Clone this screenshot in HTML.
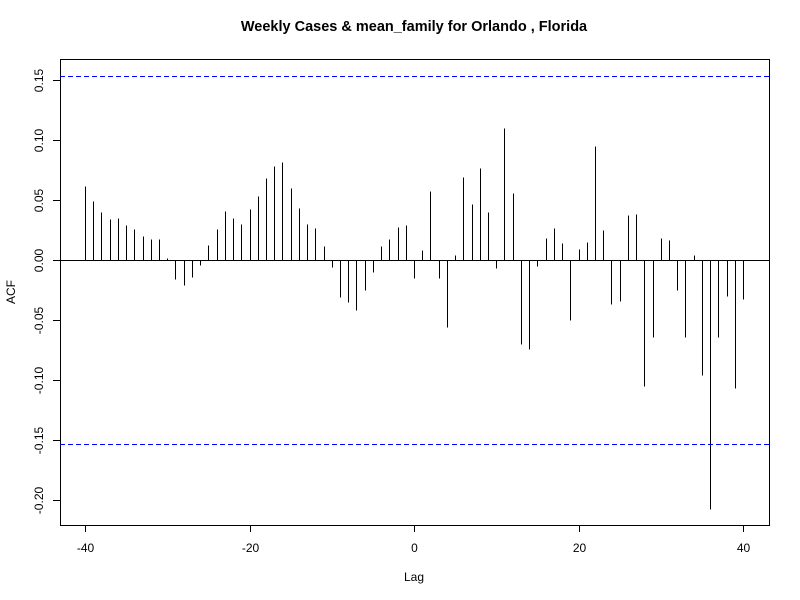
<!DOCTYPE html>
<html><head><meta charset="utf-8"><style>body{margin:0;background:#fff}svg{display:block;font-family:"Liberation Sans",Arial,sans-serif}</style></head>
<body>
<svg id="c" width="800" height="600"></svg>
<script>
const lags=[];for(let i=-40;i<=40;i++)lags.push(i);
const acfValues=[0.0617,0.049,0.040,0.034,0.035,0.029,0.026,0.020,0.0175,0.0175,0.0017,-0.0156,-0.0206,-0.0139,-0.0039,0.0125,0.026,0.041,
0.035,0.030,0.0425,0.053,0.068,0.078,0.082,0.060,0.043,0.030,0.027,0.0117,-0.0056,-0.031,-0.035,-0.042,-0.025,-0.0097,0.0117,0.0175,0.0275,0.029,
-0.0147,0.0083,0.0575,-0.0147,-0.0556,0.0042,0.069,0.0467,0.0767,0.040,-0.0064,0.110,0.0558,-0.0697,-0.0739,-0.0047,0.0183,0.0267,0.0142,-0.0497,0.0092,0.015,
0.095,0.025,-0.0364,-0.0339,0.0375,0.0383,-0.1047,-0.0639,0.0183,0.0167,-0.0247,-0.0639,0.0042,-0.0956,-0.2078,-0.0639,-0.0297,-0.1064,-0.0322];
const ciBound=0.1533;
const yTicks=[-0.20,-0.15,-0.10,-0.05,0.00,0.05,0.10,0.15];
const xTicks=[-40,-20,0,20,40];
const svg=document.getElementById('c');const NS='http://www.w3.org/2000/svg';
const X=v=>Math.round(414+v*8.225)+0.5, Y=v=>Math.round(260-v*1200)+0.5;
function mk(t,a,name,txt){const e=document.createElementNS(NS,t);for(const k in a)e.setAttribute(k,a[k]);


if(txt!==undefined)e.textContent=txt;svg.appendChild(e);return e;}
mk('rect',{x:60.5,y:59.5,width:709,height:466,fill:'none',stroke:'#000'},'plot-box');
mk('text',{x:414,y:31,'text-anchor':'middle','font-weight':'bold','font-size':14.5},'chart-title','Weekly Cases & mean_family for Orlando , Florida');
mk('line',{x1:60,x2:769,y1:Y(0),y2:Y(0),stroke:'#000'},'zero-line');
lags.forEach((l,i)=>{mk('line',{x1:X(l),x2:X(l),y1:Y(0),y2:Y(acfValues[i]),stroke:'#000','stroke-width':1,'shape-rendering':'crispEdges'},'acf-bar');});
[ciBound,-ciBound].forEach(c=>mk('line',{x1:60,x2:769,y1:Y(c),y2:Y(c),stroke:'#0000ff','stroke-dasharray':'5,3','shape-rendering':'crispEdges'},'confidence-line'));
yTicks.forEach(t=>{mk('line',{x1:53,x2:60,y1:Y(t),y2:Y(t),stroke:'#000'},'y-tick');
mk('text',{x:43,y:Y(t),'text-anchor':'middle','font-size':12,transform:`rotate(-90 43 ${Y(t)})`},'y-tick-label',t.toFixed(2));});
mk('line',{x1:X(-40),x2:X(40),y1:525.5,y2:525.5,stroke:'#000'},'x-axis');
xTicks.forEach(t=>{mk('line',{x1:X(t),x2:X(t),y1:525,y2:532,stroke:'#000'},'x-tick');
mk('text',{x:X(t),y:552,'text-anchor':'middle','font-size':12},'x-tick-label',String(t));});
mk('text',{x:414,y:581,'text-anchor':'middle','font-size':12},'x-axis-title','Lag');
mk('text',{x:15,y:292,'text-anchor':'middle','font-size':12,transform:'rotate(-90 15 292)'},'y-axis-title','ACF');
</script>
</body></html>
